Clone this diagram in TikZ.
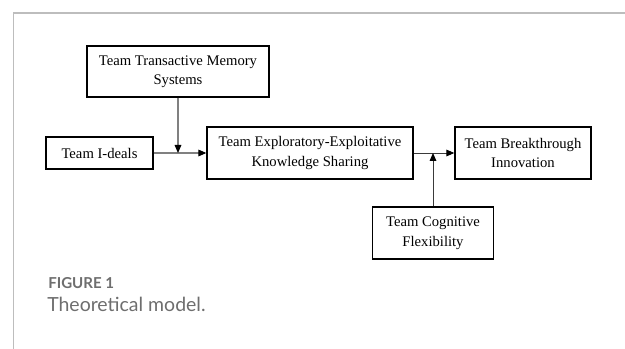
\documentclass[tikz,border=0pt]{standalone}
\usepackage{fontspec}
\setmainfont{Liberation Serif}
\newfontfamily\capfont{Lato}
\usetikzlibrary{arrows.meta}
\definecolor{framegray}{HTML}{BDBDBD}
\definecolor{capgray}{HTML}{6E6E6E}
\definecolor{leftline}{HTML}{808080}
\definecolor{rightline}{HTML}{3A3A3A}
\begin{document}
\begin{tikzpicture}[x=0.75pt,y=-0.75pt,
  box/.style={draw=black, line width=1pt, inner sep=0pt, align=center,
    font=\fontsize{11}{14.6}\selectfont},
  tip/.style={-{Triangle[length=6pt,width=5pt,color=black]}},
  gline/.style={draw=leftline, line width=0.8pt},
  dline/.style={draw=rightline, line width=0.7pt}]
\useasboundingbox (0,0) rectangle (625,349);
% outer frame (top and left rules)
\draw[framegray, line width=1.2pt] (625,13) -- (13.5,13) -- (13.5,349);

% constructs
\node[box, minimum width=136.5pt, minimum height=38.25pt] (ttms) at (178,71.5)
  {Team Transactive Memory\\Systems};
\node[box, minimum width=80.25pt, minimum height=24pt] (ideal) at (99.5,153)
  {Team I-deals};
\node[box, minimum width=154.5pt, minimum height=39pt] (kshare) at (310,153)
  {Team Exploratory-Exploitative\\Knowledge Sharing};
\node[box, minimum width=102pt, minimum height=39pt] (breakt) at (523,153)
  {Team Breakthrough\\Innovation};
\node[box, minimum width=90.75pt, minimum height=39pt] (cogflex) at (433,233)
  {Team Cognitive\\Flexibility};

% junctions where the moderators meet the paths
\coordinate (j1) at (ttms.south |- ideal.east);
\coordinate (j2) at (cogflex.north |- kshare.east);

% paths
\draw[gline, tip] (ideal.east) -- (kshare.west);
\draw[gline, tip] (ttms.south) -- (j1);
\draw[dline, tip] (kshare.east) -- (breakt.west);
\draw[dline, tip] (cogflex.north) -- (j2);

% caption
\node[anchor=base west, inner sep=0pt, text=capgray,
  font=\capfont\bfseries\fontsize{11.3}{13}\selectfont] (figlabel) at (48,288) {FIGURE 1};
\node[anchor=base west, inner sep=0pt, text=capgray,
  font=\capfont\fontsize{14.6}{17}\selectfont] (figtitle) at (47,311) {Theoretical model.};
\end{tikzpicture}
\end{document}
